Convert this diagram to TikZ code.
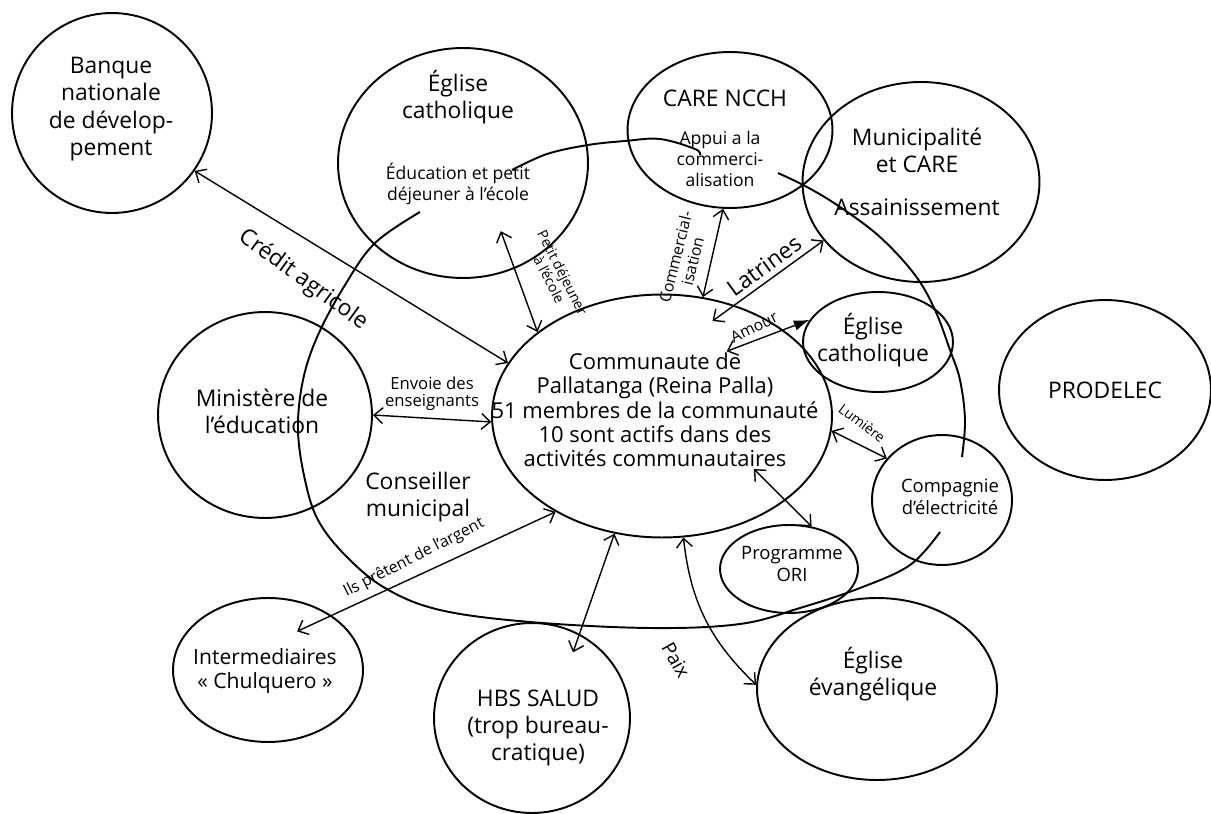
\documentclass[tikz,border=0pt]{standalone}
\usepackage{fontspec}
\setmainfont{Open Sans}
\usetikzlibrary{shapes.geometric, arrows.meta, calc}

\begin{document}
\begin{tikzpicture}[x=0.02cm, y=-0.02cm, thick,
    >={Straight Barb[length=5pt,width=9pt]},
    bubble/.style={draw, ellipse, line width=1.1pt, inner sep=0pt},
    txt/.style={align=center, inner sep=0pt, font=\fontsize{13}{15.5}\selectfont},
    subtxt/.style={align=center, inner sep=0pt, font=\fontsize{10}{12}\selectfont},
    lbl/.style={align=center, inner sep=0pt}]
    \useasboundingbox (0,0) rectangle (1211,814);

    %Bubbles
    \node[bubble, minimum width=4cm, minimum height=4cm] (banque) at (112,113) {};
    \node[bubble, minimum width=5cm, minimum height=4.6cm] (ecatA) at (463,163) {};
    \node[bubble, minimum width=4.1cm, minimum height=3.12cm] (care) at (730,130) {};
    \node[bubble, minimum width=4.74cm, minimum height=4cm] (muni) at (921,182) {};
    \node[bubble, minimum width=3cm, minimum height=2cm] (ecatB) at (878,342) {};
    \node[bubble, minimum width=4.24cm, minimum height=3.6cm] (prodelec) at (1105,390) {};
    \node[bubble, minimum width=4.28cm, minimum height=4.12cm] (minist) at (265,415) {};
    \node[bubble, minimum width=6.8cm, minimum height=4.86cm] (commu) at (662,416) {};
    \node[bubble, minimum width=2.8cm, minimum height=2.6cm] (compagnie) at (942,500) {};
    \node[bubble, minimum width=2.76cm, minimum height=1.76cm] (ori) at (789,569) {};
    \node[bubble, minimum width=4.8cm, minimum height=3.64cm] (evang) at (877,689) {};
    \node[bubble, minimum width=3.92cm, minimum height=3.8cm] (hbs) at (532,718) {};
    \node[bubble, minimum width=3.8cm, minimum height=2.88cm] (interm) at (268,670) {};

    %Conseiller municipal
    \draw[line width=1.1pt] plot[smooth, tension=0.6] coordinates {(420,212) (375,243) (345,285) (318,335) (303,380) (298,430) (305,480) (318,520) (345,555) (385,588) (440,610) (530,622) (650,628) (740,624) (800,608) (860,588) (910,565) (940,532)};
    \draw[line width=1.1pt] plot[smooth, tension=0.6] coordinates {(962,457) (965,420) (960,380) (950,350) (935,310) (915,275) (880,237) (840,207) (807,187) (778,173)};
    \draw[line width=1.1pt] plot[smooth, tension=0.6] coordinates {(700,155) (695,149) (660,139) (625,141) (588,145) (547,154) (512,170)};

    %Texts
    \node[txt] (banquet) at (111,109) {Banque\\nationale\\de dévelop-\\pement};
    \node[txt] (ecatAt) at (458,97) {Église\\catholique};
    \node[subtxt] (ecatAs) at (458,184) {Éducation et petit\\déjeuner à l'école};
    \node[txt] (caret) at (725,98) {CARE NCCH};
    \node[subtxt] (cares) at (720,159) {Appui a la\\commerci-\\alisation};
    \node[txt] (munit) at (917,150) {Municipalité\\et CARE};
    \node[txt] (munis) at (917,207) {Assainissement};
    \node[txt] (ecatBt) at (873,340) {Église\\catholique};
    \node[txt] (prodelect) at (1105,390) {PRODELEC};
    \node[txt] (ministt) at (262,411) {Ministère de\\l'éducation};
    \node[txt] (conseil) at (418,497) {Conseiller\\municipal};
    \node[txt, font=\fontsize{12.5}{13.8}\selectfont] (commut) at (655,410) {Communaute de\\Pallatanga (Reina Palla)\\51 membres de la communauté\\10 sont actifs dans des\\activités communautaires};
    \node[subtxt, font=\fontsize{10.5}{12.5}\selectfont] (compagniet) at (950,497) {Compagnie\\d'électricité};
    \node[subtxt, font=\fontsize{10.5}{12.5}\selectfont] (orit) at (792,564) {Programme\\ORI};
    \node[txt] (evangt) at (873,674) {Église\\évangélique};
    \node[txt] (hbst) at (538,728) {HBS SALUD\\(trop bureau-\\cratique)};
    \node[txt, font=\fontsize{12}{14}\selectfont] (intermt) at (265,671) {Intermediaires\\« Chulquero »};

    %Arrows
    \draw[<->] (banque.-35) -- (commu.161);
    \draw[<->] (minist.0) -- (commu.182);
    \draw[<->] ($(interm.center)!0.61!(interm.53)$) -- (commu.222);
    \draw[<->] ($(ecatA.center)!0.66!(ecatA.-61)$) -- (commu.146);
    \draw[<->] (care.-95) -- (commu.71);
    \draw[<->] ($(commu.center)!0.83!(commu.62)$) -- (muni.211);
    \draw[{Straight Barb[length=5pt,width=9pt]}-{Latex[length=9pt,width=6pt]}] ($(commu.center)!0.65!(commu.45)$) -- (ecatB.162);
    \draw[<->] (commu.-5) -- (compagnie.143);
    \draw[<->] ($(commu.center)!0.69!(commu.-30)$) -- (ori.62);
    \draw[<->] (commu.248) -- ($(hbs.center)!0.8!(hbs.58)$);
    \draw[<->] (commu.280) to[bend right=20] (evang.178);

    %Labels
    \node[lbl, rotate=-36, font=\fontsize{13}{15}\selectfont] (creditl) at (303,280) {Crédit agricole};
    \node[lbl, font=\fontsize{9.5}{9.5}\selectfont] (envoiel) at (432,394) {Envoie des\\enseignants};
    \node[lbl, rotate=27, font=\fontsize{9}{10}\selectfont] (pretl) at (414,558) {Ils prêtent de l'argent};
    \node[lbl, rotate=-63, font=\fontsize{8}{8.5}\selectfont] (petitl) at (556,276) {Petit déjeuner\\à l'école};
    \node[lbl, rotate=76, font=\fontsize{9}{10}\selectfont] (commercl) at (684,259) {Commercial-\\isation};
    \node[lbl, rotate=36, font=\fontsize{13}{15}\selectfont] (latrinesl) at (764,266) {Latrines};
    \node[lbl, rotate=26, font=\fontsize{9}{10}\selectfont] (amourl) at (754,327) {Amour};
    \node[lbl, rotate=-37, font=\fontsize{8}{9}\selectfont] (lumierel) at (862,423) {Lumière};
    \node[lbl, rotate=-61, font=\fontsize{11}{12}\selectfont] (paixl) at (676,660) {Paix};
\end{tikzpicture}
\end{document}
